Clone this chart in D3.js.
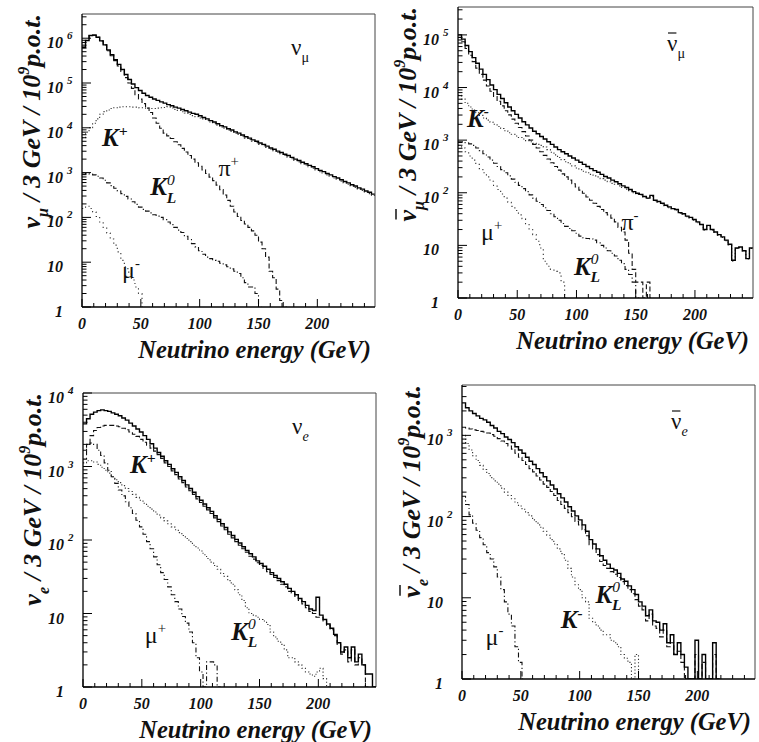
<!DOCTYPE html>
<html>
<head>
<meta charset="utf-8">
<script src="https://cdn.jsdelivr.net/npm/d3@7"></script>
<style>
  body { margin: 0; background: #fff; }
  svg { display: block; }
  text { font-family: "Liberation Serif", "Times New Roman", serif; fill: #111; }
</style>
</head>
<body>
<svg id="chart" width="759" height="742"></svg>
<script>
// neutrino flux per 3 GeV bin / 1e9 p.o.t., bin i covers [3i, 3i+3] GeV
var binWidth = 3;
var energyTicks = [0, 50, 100, 150, 200];

// --- nu_mu ---
var numuTotal = [6.3e5, 8.9e5, 1.15e6, 1.17e6, 1.05e6, 8.7e5, 7.1e5, 5.5e5, 4.3e5, 3.3e5,
  2.6e5, 2.0e5, 1.55e5, 1.2e5, 9.5e4, 7.9e4, 6.8e4, 5.9e4, 5.25e4, 4.8e4,
  4.4e4, 4.1e4, 3.8e4, 3.55e4, 3.3e4, 3.1e4, 2.9e4, 2.75e4, 2.57e4, 2.4e4,
  2.24e4, 2.1e4, 2.0e4, 1.86e4, 1.7e4, 1.58e4, 1.45e4, 1.35e4, 1.23e4, 1.12e4,
  1.05e4, 9550, 8900, 8130, 7590, 6920, 6310, 5890, 5370, 5010,
  4570, 4270, 3890, 3550, 3310, 3020, 2820, 2570, 2400, 2190,
  2000, 1860, 1700, 1580, 1450, 1350, 1230, 1120, 1050, 955,
  891, 813, 759, 692, 631, 589, 537, 501, 457, 427,
  389, 363, 331];
var numuPi = [6.3e5, 8.9e5, 1.15e6, 1.17e6, 1.05e6, 8.7e5, 7.1e5, 5.25e5, 4.07e5, 3.16e5,
  2.4e5, 1.82e5, 1.32e5, 1.0e5, 7.6e4, 5.5e4, 4.37e4, 3.47e4, 2.75e4, 2.19e4,
  1.66e4, 1.26e4, 9770, 7590, 6610, 5750, 4900, 4170, 3470, 2880,
  2400, 2000, 1660, 1380, 1150, 955, 794, 661, 525, 417,
  316, 240, 178, 132, 105, 85, 71, 60, 50, 40,
  28, 20, 13, 6.3, 4.5, 2.5, 1.4, 0];
var numuK = [6000, 8000, 1.0e4, 1.26e4, 1.58e4, 2.0e4, 2.3e4, 2.5e4, 2.7e4, 2.8e4,
  2.9e4, 2.95e4, 2.95e4, 2.95e4, 2.9e4, 2.9e4, 2.8e4, 2.8e4, 2.75e4, 2.7e4,
  2.7e4, 2.75e4, 2.8e4, 2.85e4, 2.94e4, 2.76e4, 2.58e4, 2.45e4, 2.29e4, 2.14e4,
  1.99e4, 1.87e4, 1.78e4, 1.66e4, 1.58e4, 1.48e4, 1.35e4, 1.26e4, 1.15e4, 1.05e4,
  9770, 8910, 8320, 7590, 7080, 6460, 5890, 5500, 5010, 4680,
  4270, 3980, 3630, 3310, 3090, 2820, 2630, 2400, 2240, 2040,
  1860, 1740, 1580, 1480, 1350, 1260, 1150, 1050, 977, 891,
  832, 759, 708, 646, 589, 550, 501, 468, 427, 398,
  363, 339, 309];
var numuKL = [933, 955, 933, 891, 832, 759, 676, 589, 513, 447,
  389, 339, 295, 257, 224, 195, 170, 151, 138, 126,
  115, 107, 100, 89, 79, 69, 60, 52, 46, 38,
  32, 26, 22, 18, 15, 13, 12, 11, 10.5, 9.5,
  8.7, 7.9, 7.1, 6.3, 5.6, 4.5, 3.5, 2.8, 2.8, 2.0, 0];
var numuMu = [158, 178, 158, 132, 105, 79, 60, 45, 33, 24, 17, 11, 7.9, 6.0, 4.0, 2.8, 2.0, 0];

// --- anti nu_mu ---
var anumuTotal = [1.0e5, 8.3e4, 6.3e4, 4.8e4, 3.7e4, 2.9e4, 2.24e4, 1.78e4, 1.41e4, 1.12e4,
  9120, 7410, 6170, 5130, 4270, 3630, 3090, 2630, 2240, 1950,
  1700, 1480, 1320, 1170, 1050, 933, 832, 741, 661, 603,
  550, 501, 457, 417, 380, 347, 316, 288, 263, 245,
  224, 204, 191, 174, 162, 148, 135, 126, 115, 105,
  98, 93, 85, 79, 89, 72, 68, 63, 58, 54,
  50, 48, 42, 40, 36, 34, 31, 28, 25, 20,
  24, 20, 18, 16, 14.5, 12.6, 10.5, 5.2, 8.9, 9.3,
  7.9, 5.6, 8.9];
var anumuPi = [8.9e4, 7.4e4, 5.5e4, 4.1e4, 3.1e4, 2.34e4, 1.78e4, 1.38e4, 1.07e4, 8510,
  6760, 5500, 4470, 3630, 3020, 2510, 2090, 1740, 1450, 1200,
  1000, 832, 708, 603, 513, 437, 372, 316, 269, 229,
  200, 174, 148, 129, 112, 98, 83, 72, 63, 55,
  48, 42, 38, 33, 28, 22, 18, 12.6, 7.1, 3.5,
  2.0, 2.0, 0, 2.0, 0];
var anumuK = [7080, 6030, 5010, 4270, 3720, 3310, 2950, 2630, 2400, 2190,
  2000, 1820, 1660, 1510, 1380, 1290, 1200, 1120, 1050, 977,
  933, 871, 832, 794, 741, 661, 589, 525, 468, 427,
  389, 355, 324, 295, 275, 257, 240, 224, 209, 200,
  186, 174, 162, 151, 145, 135, 126, 117, 110, 100,
  93, 91, 83, 78, 85, 71, 66, 62, 56, 52,
  49, 47, 41, 39, 35, 33, 30, 27, 25, 19.5,
  23.4, 19.5, 17.8, 15.5, 14.1, 12.3, 10.2, 5.0, 8.7, 9.1,
  7.8, 5.5, 8.7];
var anumuKL = [933, 933, 891, 851, 794, 708, 631, 550, 479, 417,
  363, 316, 275, 240, 209, 182, 158, 138, 120, 105,
  91, 79, 69, 60, 52, 46, 40, 35, 30, 26,
  23, 21, 19, 17, 15, 14, 13.5, 13.2, 12.6, 11.2,
  10, 8.9, 7.9, 7.1, 6.3, 5.2, 4.5, 3.5, 2.8, 2.0, 0];
var anumuMu = [794, 708, 603, 501, 417, 347, 288, 240, 200, 166,
  138, 115, 95, 79, 66, 55, 46, 38, 32, 25,
  20, 16, 12, 8.9, 5.0, 4.0, 3.5, 3.2, 3.0, 2.0, 0];

// --- nu_e ---
var nueTotal = [3800, 4470, 5130, 5500, 5750, 5890, 5750, 5620, 5370, 5130,
  4900, 4570, 4270, 3890, 3550, 3240, 2950, 2630, 2340, 2040,
  1780, 1550, 1380, 1200, 1070, 933, 832, 724, 646, 562,
  501, 447, 389, 347, 309, 275, 245, 214, 191, 166,
  148, 129, 115, 102, 91, 81, 72, 65, 59, 52,
  48, 44, 40, 36, 33, 30, 27, 25, 22, 20,
  18, 16, 14.5, 12.9, 11.5, 11, 16.6, 9.5, 8.3, 7.2,
  6.3, 5.2, 4.0, 3.0, 3.5, 2.5, 3.5, 2.2, 2.8, 2.0,
  1.5, 1.5, 1.0];
var nueK = [1260, 2000, 2630, 3090, 3390, 3550, 3630, 3630, 3630, 3550,
  3470, 3310, 3160, 2950, 2750, 2570, 2340, 2140, 1950, 1780,
  1620, 1450, 1290, 1120, 1000, 871, 776, 676, 603, 525,
  468, 417, 363, 324, 288, 257, 229, 200, 178, 155,
  138, 120, 107, 95, 85, 76, 68, 60, 55, 49,
  45, 41, 37, 34, 31, 28, 25, 23, 20, 19,
  17, 15, 13.5, 12, 10.7, 10, 8.9, 8.9, 7.9, 6.9,
  6.0, 5.0, 3.8, 2.8, 3.2, 2.2, 3.2, 2.0, 2.5, 2.0, 0];
var nueMu = [1660, 2000, 2090, 2000, 1660, 1410, 1120, 891, 724, 589,
  479, 398, 331, 275, 229, 186, 151, 120, 95, 76,
  59, 46, 36, 29, 23, 18, 14.5, 11.5, 9.1, 7.4,
  5.6, 4.0, 2.5, 1.6, 0, 2.2, 2.2, 2.0, 0];
var nueKL = [1120, 1200, 1200, 1150, 1070, 977, 891, 813, 724, 661,
  603, 550, 501, 457, 417, 380, 347, 316, 288, 263,
  240, 219, 200, 182, 166, 151, 138, 126, 115, 105,
  95, 85, 78, 71, 63, 56, 50, 45, 40, 35,
  32, 28, 25, 21, 18, 15, 12, 10, 9.5, 8.9,
  8.3, 7.9, 7.1, 5.6, 4.8, 4.2, 3.8, 3.2, 2.5, 2.5,
  2.2, 2.0, 1.8, 1.6, 1.5, 1.4, 1.6, 1.8, 1.3, 0];

// --- anti nu_e ---
var anueTotal = [2510, 2190, 2000, 1860, 1740, 1620, 1550, 1450, 1320, 1230,
  1120, 1050, 955, 891, 813, 724, 661, 603, 537, 479,
  437, 389, 347, 309, 275, 245, 219, 191, 170, 151,
  132, 117, 102, 91, 79, 66, 52, 46, 40, 33,
  29, 26, 23, 22, 20, 17, 16, 14, 12.6, 11,
  8.9, 7.9, 6.0, 7.1, 5.2, 5.0, 4.0, 4.8, 2.8, 3.5,
  2.0, 2.8, 2.0, 1.4, 0, 0, 3.0, 0, 2.0, 0,
  0, 2.8, 0];
var anueKL = [1260, 1230, 1200, 1170, 1150, 1120, 1100, 1070, 1020, 977,
  912, 851, 794, 741, 676, 603, 537, 490, 437, 389,
  355, 316, 282, 251, 229, 204, 182, 158, 141, 126,
  112, 100, 87, 79, 69, 58, 45, 40, 34, 28,
  25, 23, 21, 19.5, 17.8, 15.8, 14.1, 12.6, 11.2, 9.5,
  7.9, 7.1, 5.2, 6.3, 4.5, 4.2, 3.3, 4.0, 2.5, 2.8,
  2.0, 2.2, 1.6, 0, 0, 0, 2.0, 0, 1.6, 0,
  0, 2.0, 0];
var anueK = [1000, 794, 661, 562, 490, 427, 380, 339, 302, 275,
  251, 224, 200, 182, 166, 148, 135, 123, 112, 102,
  91, 83, 74, 66, 59, 52, 46, 40, 35, 29,
  23, 18, 14.5, 12.6, 10, 8.9, 5.6, 5.0, 4.5, 4.0,
  3.5, 3.5, 3.0, 2.8, 2.5, 2.0, 1.8, 1.6, 0, 2.0, 0];
var anueMu = [178, 141, 105, 83, 68, 55, 45, 36, 30, 24, 18, 12.6, 8.9, 6.3, 4.5, 2.5, 1.6, 0];

// line styles used for the parent contributions
var styles = {
  total:   { dash: null,            width: 1.4, color: '#000' },
  dashed:  { dash: '5,2.5',         width: 1.1, color: '#111' },
  dotted:  { dash: '1.2,2.2',       width: 1.1, color: '#333' },
  dashdot: { dash: '5,2.5,1.2,2.5', width: 1.1, color: '#111' },
  sparse:  { dash: '1.2,3.2',       width: 1.1, color: '#333' }
};

var panels = [
  { left: 82, right: 375, top: 14, bottom: 307, yMax: 3.47e6, flav: 'μ', anti: false,
    series: [[numuPi, 'dashed'], [numuK, 'dotted'], [numuKL, 'dashdot'], [numuMu, 'sparse'], [numuTotal, 'total']],
    labels: [
      { e: 17, v: 3900, parts: [{ t: 'K', k: 1 }, { t: '+', sup: 1 }] },
      { e: 116, v: 830, parts: [{ t: 'π' }, { t: '+', sup: 1 }] },
      { e: 58, v: 316, kl: 1 },
      { e: 34, v: 4.5, parts: [{ t: 'μ' }, { t: '-', sup: 1 }] }
    ] },
  { left: 458, right: 753, top: 7, bottom: 298, yMax: 3.39e5, flav: 'μ', anti: true,
    series: [[anumuPi, 'dashed'], [anumuK, 'dotted'], [anumuKL, 'dashdot'], [anumuMu, 'sparse'], [anumuTotal, 'total']],
    labels: [
      { e: 7.6, v: 1780, parts: [{ t: 'K', k: 1 }, { t: '-', sup: 1 }] },
      { e: 138, v: 19.5, parts: [{ t: 'π' }, { t: '-', sup: 1 }] },
      { e: 19.5, v: 12.6, parts: [{ t: 'μ' }, { t: '+', sup: 1 }] },
      { e: 98, v: 2.75, kl: 1 }
    ] },
  { left: 83, right: 376, top: 393, bottom: 687, yMax: 1e4, flav: 'e', anti: false,
    series: [[nueK, 'dashed'], [nueMu, 'dashdot'], [nueKL, 'dotted'], [nueTotal, 'total']],
    labels: [
      { e: 40, v: 813, parts: [{ t: 'K', k: 1 }, { t: '+', sup: 1 }] },
      { e: 52.5, v: 4, parts: [{ t: 'μ' }, { t: '+', sup: 1 }] },
      { e: 126, v: 4.4, kl: 1 }
    ] },
  { left: 462, right: 755, top: 385, bottom: 679, yMax: 4170, flav: 'e', anti: true,
    series: [[anueKL, 'dashed'], [anueK, 'dotted'], [anueMu, 'dashdot'], [anueTotal, 'total']],
    labels: [
      { e: 20, v: 2.6, parts: [{ t: 'μ' }, { t: '-', sup: 1 }] },
      { e: 84, v: 4.2, parts: [{ t: 'K', k: 1 }, { t: '-', sup: 1 }] },
      { e: 113.5, v: 8.7, kl: 1 }
    ] }
];

var svg = d3.select('#chart');

// append tspans with sub/superscripts, keeping track of baseline shift
function rich(textSel, parts, size) {
  var shift = 0;
  parts.forEach(function(p) {
    var target = p.sup ? -0.42 * size : (p.sub ? 0.3 * size : 0);
    var ts = textSel.append('tspan').attr('dy', target - shift).text(p.t);
    if (p.sup || p.sub) ts.attr('font-size', size * 0.62);
    if (p.dx) ts.attr('dx', p.dx);
    if (p.style) ts.attr('font-style', p.style);
    if (p.weight) ts.attr('font-weight', p.weight);
    shift = target;
  });
}

panels.forEach(function(p, pi) {
  var x = d3.scaleLinear().domain([0, 249]).range([p.left, p.right]);
  var y = d3.scaleLog().domain([1, p.yMax]).range([p.bottom, p.top]).clamp(true);
  var g = svg.append('g');

  var clipId = 'clip' + pi;
  g.append('clipPath').attr('id', clipId).append('rect')
    .attr('x', p.left).attr('y', p.top)
    .attr('width', p.right - p.left).attr('height', p.bottom - p.top);

  // histograms
  var line = d3.line()
    .x(function(d) { return x(d[0]); })
    .y(function(d) { return y(Math.max(d[1], 1)); })
    .curve(d3.curveStepAfter);

  var plot = g.append('g').attr('clip-path', 'url(#' + clipId + ')');
  p.series.forEach(function(s) {
    var vals = s[0], st = styles[s[1]];
    var pts = vals.map(function(v, i) { return [i * binWidth, v]; });
    pts.push([vals.length * binWidth, vals[vals.length - 1]]);
    plot.append('path')
      .attr('d', line(pts))
      .attr('fill', 'none')
      .attr('stroke', st.color)
      .attr('stroke-width', st.width)
      .attr('stroke-dasharray', st.dash);
  });

  // frame
  g.append('line').attr('x1', p.left).attr('x2', p.right).attr('y1', p.top).attr('y2', p.top)
    .attr('stroke', '#444').attr('stroke-width', 1);
  g.append('line').attr('x1', p.right).attr('x2', p.right).attr('y1', p.top).attr('y2', p.bottom)
    .attr('stroke', '#444').attr('stroke-width', 1);
  g.append('line').attr('x1', p.left).attr('x2', p.right).attr('y1', p.bottom).attr('y2', p.bottom)
    .attr('stroke', '#000').attr('stroke-width', 1.3);
  g.append('line').attr('x1', p.left).attr('x2', p.left).attr('y1', p.top).attr('y2', p.bottom)
    .attr('stroke', '#000').attr('stroke-width', 1.3);

  // x ticks every 10 GeV, labels every 50
  d3.range(0, 250, 10).forEach(function(e) {
    var len = e % 50 === 0 ? 8 : 4;
    g.append('line').attr('x1', x(e)).attr('x2', x(e))
      .attr('y1', p.bottom).attr('y2', p.bottom - len)
      .attr('stroke', '#000').attr('stroke-width', 1);
  });
  g.selectAll('.xl').data(energyTicks).enter().append('text')
    .attr('x', function(d) { return x(d); })
    .attr('y', p.bottom + 22)
    .attr('text-anchor', 'middle')
    .attr('font-size', 16).attr('font-weight', 'bold').attr('font-style', 'italic')
    .text(function(d) { return d; });

  // y ticks: decades + minors
  var topDec = Math.floor(Math.log10(p.yMax) + 1e-9);
  for (var d = 0; d <= topDec + 1; d++) {
    for (var m = 1; m <= 9; m++) {
      var v = m * Math.pow(10, d);
      if (v > p.yMax) break;
      var len = m === 1 ? 9 : 4.5;
      g.append('line').attr('x1', p.left).attr('x2', p.left + len)
        .attr('y1', y(v)).attr('y2', y(v))
        .attr('stroke', '#000').attr('stroke-width', 1);
    }
  }
  for (var dd = 0; dd <= topDec; dd++) {
    var ty = y(Math.pow(10, dd));
    g.append('text')
      .attr('x', p.left - 19).attr('y', ty + 10)
      .attr('text-anchor', 'end')
      .attr('font-size', 16).attr('font-weight', 'bold').attr('font-style', 'italic')
      .text(dd === 0 ? '1' : '10');
    if (dd >= 2) {
      g.append('text')
        .attr('x', p.left - 15).attr('y', ty + 1)
        .attr('font-size', 11).attr('font-weight', 'bold').attr('font-style', 'italic')
        .text(dd);
    }
  }

  // axis titles
  g.append('text')
    .attr('x', p.right - 4).attr('y', p.bottom + 51)
    .attr('text-anchor', 'end')
    .attr('font-size', 24.5).attr('font-weight', 'bold').attr('font-style', 'italic')
    .text('Neutrino energy (GeV)');

  var yt = g.append('g').attr('transform', 'translate(' + (p.left - 42) + ',' + p.top + ') rotate(-90)');
  var ytText = yt.append('text')
    .attr('x', 0).attr('y', 0)
    .attr('text-anchor', 'end')
    .attr('font-size', 26).attr('font-weight', 'bold').attr('font-style', 'italic');
  rich(ytText, [{ t: 'ν' }, { t: p.flav, sub: 1 }, { t: ' / 3 GeV / 10' }, { t: '9', sup: 1 }, { t: 'p.o.t.' }], 26);
  if (p.anti) {
    var ext = ytText.node().getExtentOfChar(0);
    yt.append('line')
      .attr('x1', ext.x + 2).attr('x2', ext.x + ext.width + 1)
      .attr('y1', -20).attr('y2', -20)
      .attr('stroke', '#111').attr('stroke-width', 1.5);
  }

  // flavour label in the corner
  var fx = p.left + 209, fy = p.top + (p.anti ? 44 : 41);
  var fl = g.append('text').attr('x', fx).attr('y', fy).attr('font-size', 23);
  rich(fl, [{ t: 'ν' }, { t: p.flav, sub: 1, style: p.flav === 'e' ? 'italic' : null }], 23);
  if (p.anti) {
    var fe = fl.node().getExtentOfChar(0);
    g.append('line')
      .attr('x1', fe.x + 1).attr('x2', fe.x + fe.width - 1)
      .attr('y1', fy - 18).attr('y2', fy - 18)
      .attr('stroke', '#111').attr('stroke-width', 1.2);
  }

  // curve labels (anchored in data units)
  p.labels.forEach(function(l) {
    var t = g.append('text').attr('x', x(l.e)).attr('y', y(l.v));
    if (l.kl) {
      t.attr('font-size', 25).attr('font-weight', 'bold').attr('font-style', 'italic');
      rich(t, [{ t: 'K' }, { t: '0', sup: 1, weight: 'normal' }, { t: 'L', sub: 1, dx: -8 }], 25);
    } else if (l.parts[0].k) {
      t.attr('font-size', 25).attr('font-weight', 'bold').attr('font-style', 'italic');
      rich(t, l.parts, 25);
    } else {
      t.attr('font-size', 24);
      rich(t, l.parts, 24);
    }
  });
});
</script>
</body>
</html>
